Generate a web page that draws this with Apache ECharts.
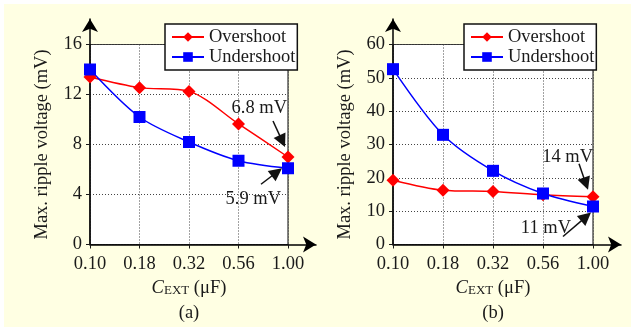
<!DOCTYPE html>
<html><head><meta charset="utf-8">
<script src="https://cdn.jsdelivr.net/npm/echarts@6/dist/echarts.min.js"></script>
<style>html,body{margin:0;padding:0;background:#fff}#c{width:631px;height:327px}</style>
</head><body><div id="c"></div>
<script>
const categories = ['0.10', '0.18', '0.32', '0.56', '1.00'];
const overshootA = [13.4, 12.55, 12.25, 9.65, 7.0];
const undershootA = [14.0, 10.2, 8.2, 6.7, 6.1];
const overshootB = [19.3, 16.3, 15.9, 14.9, 14.3];
const undershootB = [52.6, 32.9, 22.1, 15.3, 11.4];
const yMaxA = 16, yStepA = 4;
const yMaxB = 60, yStepB = 10;
const notesA = ['6.8 mV', '5.9 mV'];
const notesB = ['14 mV', '11 mV'];
const seriesNames = ['Overshoot', 'Undershoot'];
const panelLabels = ['(a)', '(b)'];

const FONT = "'Liberation Serif','Times New Roman',serif";
const FS = 18.5;
const INK = '#1a1a1a';
const chart = echarts.init(document.getElementById('c'));

function dataX(i) {
  return {
    type: 'category', gridIndex: i, data: categories, boundaryGap: false,
    axisLine: { show: false },
    axisTick: { show: true, inside: false, length: 4, lineStyle: { color: INK } },
    axisLabel: { fontFamily: FONT, fontSize: FS, color: INK, margin: 10 },
    splitLine: { show: true, lineStyle: { color: '#444', type: [1, 2], width: 1 } },
    name: '{i|C}{s|EXT}{n| (μF)}', nameLocation: 'middle', nameGap: 34,
    nameTextStyle: { rich: {
      i: { fontFamily: FONT, fontSize: FS, fontStyle: 'italic', color: INK },
      s: { fontFamily: FONT, fontSize: 13, color: INK, padding: [5, 0, 0, 0] },
      n: { fontFamily: FONT, fontSize: FS, color: INK } } }
  };
}
function dataY(i, max, step) {
  return {
    type: 'value', gridIndex: i, min: 0, max: max, interval: step,
    axisLine: { show: false },
    axisTick: { show: true, inside: false, length: 4, lineStyle: { color: INK } },
    axisLabel: { fontFamily: FONT, fontSize: FS, color: INK, margin: 8 },
    splitLine: { show: true, lineStyle: { color: '#444', type: [1, 2], width: 1 } },
    name: 'Max. ripple voltage (mV)', nameLocation: 'middle', nameGap: 38,
    nameTextStyle: { fontFamily: FONT, fontSize: FS, color: INK }
  };
}
function arrowAxis(type, i) {
  return {
    type: 'value', gridIndex: i, min: 0, max: 1,
    axisLine: { show: true, onZero: false, symbol: ['none', 'arrow'], symbolSize: [12, 13],
      lineStyle: { color: '#000', width: 1.5 } },
    axisTick: { show: false }, axisLabel: { show: false }, splitLine: { show: false }
  };
}
function legend(left) {
  return {
    left: left, top: 24, orient: 'vertical', data: seriesNames,
    itemWidth: 32, itemHeight: 12, itemGap: 0,
    padding: [3, 2, 3, 6],
    backgroundColor: '#fff', borderColor: '#111', borderWidth: 1.5, borderRadius: 0,
    textStyle: { fontFamily: FONT, fontSize: FS, color: INK, lineHeight: 20 }
  };
}
function line(name, data, i, color, symbol, size) {
  return {
    name: name, type: 'line', xAxisIndex: i, yAxisIndex: i, data: data,
    smooth: 0.3, symbol: symbol, symbolSize: size, showSymbol: true,
    lineStyle: { color: color, width: 1.5 }, itemStyle: { color: color },
    z: 5
  };
}

chart.setOption({
  backgroundColor: '#fff',
  animation: false,
  grid: [
    { left: 90, top: 44.5, width: 198, height: 200, show: true, backgroundColor: '#fff', borderColor: '#333', borderWidth: 1.2 },
    { left: 393, top: 44.5, width: 200, height: 200, show: true, backgroundColor: '#fff', borderColor: '#333', borderWidth: 1.2 },
    { left: 90, top: 19, width: 226, height: 225.5 },
    { left: 393, top: 19, width: 228, height: 225.5 }
  ],
  xAxis: [dataX(0), dataX(1), arrowAxis('x', 2), arrowAxis('x', 3)],
  yAxis: [dataY(0, yMaxA, yStepA), dataY(1, yMaxB, yStepB), arrowAxis('y', 2), arrowAxis('y', 3)],
  legend: [legend(165), legend(464)],
  series: [
    line(seriesNames[0], overshootA, 0, '#ff0000', 'diamond', 13),
    line(seriesNames[1], undershootA, 0, '#0000ff', 'rect', 12),
    line(seriesNames[0], overshootB, 1, '#ff0000', 'diamond', 13),
    line(seriesNames[1], undershootB, 1, '#0000ff', 'rect', 12)
  ]
});

function arrow(tail, tip) {
  const dx = tip[0] - tail[0], dy = tip[1] - tail[1];
  const L = Math.hypot(dx, dy), ux = dx / L, uy = dy / L, hl = 13, hw = 6.5;
  const base = [tip[0] - ux * hl, tip[1] - uy * hl];
  const l = [base[0] - uy * hw, base[1] + ux * hw], r = [base[0] + uy * hw, base[1] - ux * hw];
  return [
    { type: 'line', z: 20, shape: { x1: tail[0], y1: tail[1], x2: base[0] + ux, y2: base[1] + uy }, style: { stroke: '#111', lineWidth: 1.5 } },
    { type: 'polygon', z: 20, shape: { points: [tip, l, r] }, style: { fill: '#111' } }
  ];
}
function note(text, p, dx, dy) {
  return { type: 'text', z: 20, x: p[0] + dx, y: p[1] + dy,
    style: { text: text, fontFamily: FONT, fontSize: FS, fill: INK, align: 'right', verticalAlign: 'middle',
      textAlign: 'right', textVerticalAlign: 'middle' } };
}
function off(p, dx, dy) { return [p[0] + dx, p[1] + dy]; }

const last = categories.length - 1;
const pa1 = chart.convertToPixel({ xAxisIndex: 0, yAxisIndex: 0 }, [last, overshootA[last]]);
const pa2 = chart.convertToPixel({ xAxisIndex: 0, yAxisIndex: 0 }, [last, undershootA[last]]);
const pb1 = chart.convertToPixel({ xAxisIndex: 1, yAxisIndex: 1 }, [last, overshootB[last]]);
const pb2 = chart.convertToPixel({ xAxisIndex: 1, yAxisIndex: 1 }, [last, undershootB[last]]);
const ca = chart.convertToPixel({ xAxisIndex: 0, yAxisIndex: 0 }, [2, 0]);
const cb = chart.convertToPixel({ xAxisIndex: 1, yAxisIndex: 1 }, [2, 0]);

let g = [
  { type: 'rect', z: -100, silent: true, shape: { x: 4, y: 4, width: 627, height: 323 }, style: { fill: '#ffffe3' } }
];
g = g.concat(arrow(off(pa1, -15, -36), off(pa1, -3, -10)));
g.push(note(notesA[0], pa1, -1, -49));
g = g.concat(arrow(off(pa2, -27, 16), off(pa2, -6, 0)));
g.push(note(notesA[1], pa2, -7, 31));
g = g.concat(arrow(off(pb1, -14, -33), off(pb1, -5, -7)));
g.push(note(notesB[0], pb1, 0, -40));
g = g.concat(arrow(off(pb2, -30, 30), off(pb2, -2, 6)));
g.push(note(notesB[1], pb2, -22, 22));
g.push({ type: 'text', z: 20, x: ca[0], y: 313, style: { text: panelLabels[0], fontFamily: FONT, fontSize: FS, fill: INK, align: 'center', verticalAlign: 'middle', textAlign: 'center', textVerticalAlign: 'middle' } });
g.push({ type: 'text', z: 20, x: cb[0], y: 313, style: { text: panelLabels[1], fontFamily: FONT, fontSize: FS, fill: INK, align: 'center', verticalAlign: 'middle', textAlign: 'center', textVerticalAlign: 'middle' } });
chart.setOption({ graphic: g });
</script></body></html>
